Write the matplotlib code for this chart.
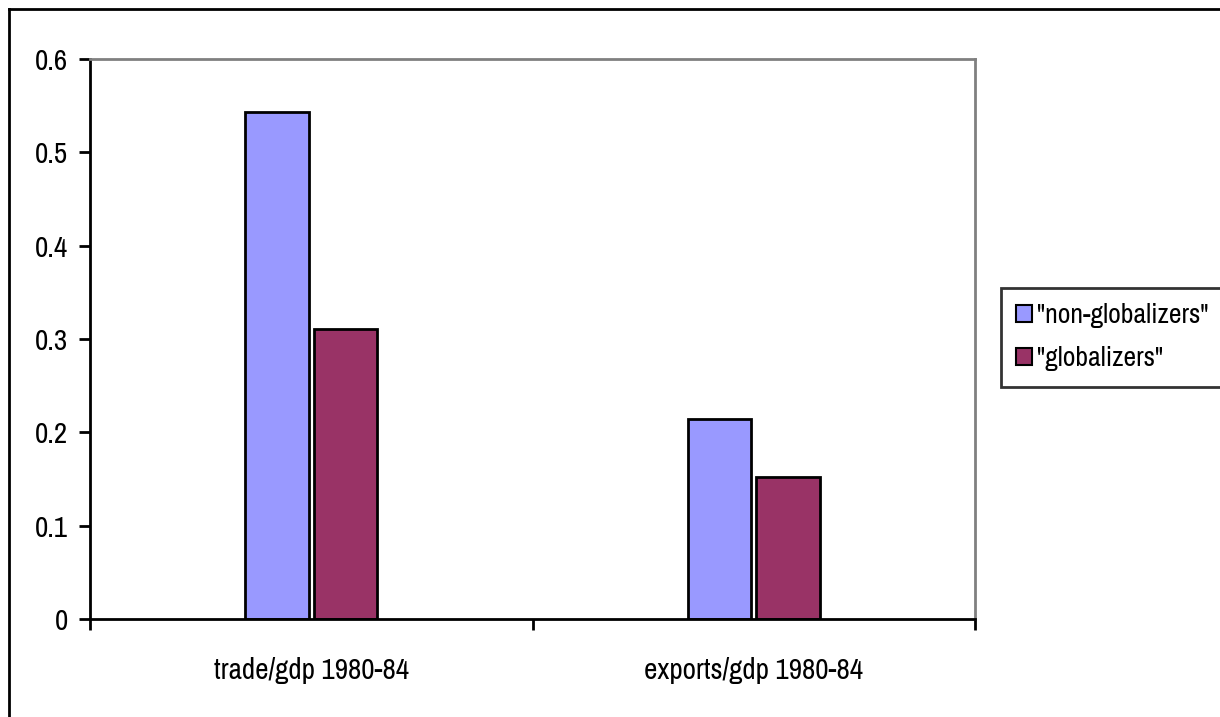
import matplotlib.pyplot as plt
import matplotlib.lines as mlines
import numpy as np

plt.rcParams['font.family'] = ['Liberation Sans Narrow', 'Archivo Narrow', 'Roboto Condensed',
                               'Liberation Sans', 'DejaVu Sans']

categories = ['trade/gdp 1980-84', 'exports/gdp 1980-84']
non_glob = [0.543, 0.214]
glob = [0.311, 0.152]
series_names = ['"non-globalizers"', '"globalizers"']
colors = ['#9999FF', '#993366']

fig = plt.figure(figsize=(12.2, 7.17), dpi=100)
ax = fig.add_axes([90 / 1220, 1 - 619 / 717, 885 / 1220, 560 / 717])

x = np.arange(len(categories))
w = 0.143
ax.bar(x - w / 2 - 0.006, non_glob, w, color=colors[0], edgecolor='black', linewidth=2,
       label=series_names[0])
ax.bar(x + w / 2 + 0.006, glob, w, color=colors[1], edgecolor='black', linewidth=2,
       label=series_names[1])

ax.set_xlim(-0.5, 1.5)
ax.set_ylim(0, 0.6)
ax.set_yticks(np.arange(0, 0.61, 0.1))
ax.set_yticklabels(['0', '0.1', '0.2', '0.3', '0.4', '0.5', '0.6'])
ax.set_xticks([-0.5, 0.5, 1.5])
ax.set_xticklabels([])
ax.set_xticks(x, minor=True)
ax.set_xticklabels(categories, minor=True)
ax.tick_params(axis='x', which='minor', length=0, pad=27, labelsize=21)
ax.tick_params(axis='x', which='major', direction='out', length=8, width=2)
ax.tick_params(axis='y', direction='out', length=8, width=2, pad=8, labelsize=21)

ax.spines['left'].set_linewidth(2)
ax.spines['bottom'].set_linewidth(2)
for s in ['top', 'right']:
    ax.spines[s].set_color('#808080')
    ax.spines[s].set_linewidth(2)

leg = fig.legend(loc='upper left', bbox_to_anchor=(1001 / 1220, 1 - 288 / 717),
                 borderaxespad=0, frameon=True, fancybox=False, edgecolor='black',
                 fontsize=20, handlelength=0.55, handleheight=0.55, handletextpad=0.2,
                 labelspacing=0.65, borderpad=0.55)
leg.get_frame().set_linewidth(2)
for h in leg.legend_handles:
    h.set_linewidth(1.5)

# chart area border (top and left visible)
fig.add_artist(mlines.Line2D([9 / 1220, 9 / 1220], [0, 1 - 9 / 717], color='black', lw=2))
fig.add_artist(mlines.Line2D([9 / 1220, 1], [1 - 9 / 717, 1 - 9 / 717], color='black', lw=2))

fig.savefig('out.png', dpi=100)
